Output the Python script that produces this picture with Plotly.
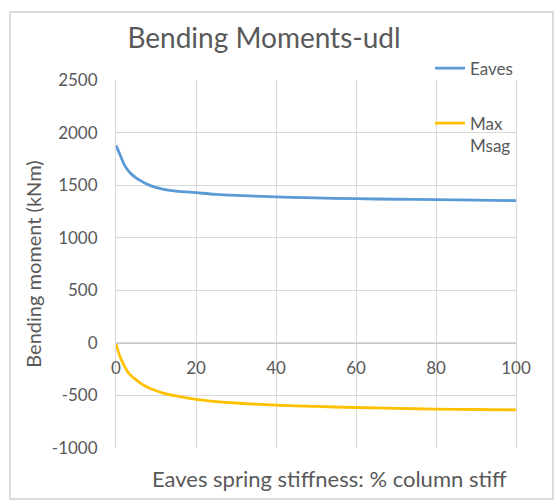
import plotly.graph_objects as go

# % column stiffness used for the eaves spring
stiffness = [0, 1, 2, 3, 4, 5, 6, 8, 10, 12, 15, 20, 25, 30, 40, 50, 60, 70, 80, 90, 100]
# bending moments (kNm)
eaves = [1880, 1790, 1700, 1640, 1600, 1570, 1545, 1505, 1478, 1460, 1443, 1428,
         1413, 1403, 1388, 1378, 1371, 1366, 1362, 1357, 1353]
max_msag = [-10, -130, -215, -280, -320, -350, -380, -425, -455, -480, -505, -537,
            -558, -572, -593, -605, -615, -623, -630, -634, -637]

y_ticks = [-1000, -500, 0, 500, 1000, 1500, 2000, 2500]
y_labels = ['-1000', '-500', '0', '500', '1000', '1500', '2000', '2500']

FONT = "Lato"
TXT = "#595959"
GRID = "#d9d9d9"

fig = go.Figure()
fig.add_trace(go.Scatter(x=stiffness, y=eaves, mode='lines', name='Eaves',
                         line=dict(color='#5b9bd5', width=2.8, shape='spline'),
                         legendgroup='a'))
fig.add_trace(go.Scatter(x=stiffness, y=max_msag, mode='lines', name='Max<br>Msag',
                         line=dict(color='#ffc000', width=2.8, shape='spline'),
                         legendgroup='b'))

fig.update_layout(
    width=558, height=502,
    margin=dict(l=116, r=42, t=80, b=54),
    paper_bgcolor='white', plot_bgcolor='white',
    font=dict(family=FONT, color=TXT, size=17),
    title=dict(text='Bending Moments-udl', x=264 / 558, xanchor='center',
               y=1 - 38 / 502, yanchor='middle',
               font=dict(family=FONT, size=28, color=TXT)),
    legend=dict(x=0.785, y=1.08, xanchor='left', yanchor='top',
                valign='top', tracegroupgap=30, font=dict(size=17, color=TXT),
                bgcolor='rgba(0,0,0,0)'),
    xaxis=dict(range=[0, 100], dtick=20, anchor='free', position=1000 / 3500,
               showgrid=True, gridcolor=GRID, gridwidth=1,
               showline=True, linecolor='#c8c8c8', linewidth=1,
               zeroline=False, ticks='', ticklabelstandoff=10,
               tickfont=dict(size=17, color=TXT)),
    yaxis=dict(range=[-1000, 2500], tickvals=y_ticks, ticktext=y_labels,
               showgrid=True, gridcolor=GRID, gridwidth=1,
               showline=True, mirror=True, linecolor=GRID, linewidth=1,
               zeroline=False, ticks='', ticklabelstandoff=14,
               tickfont=dict(size=17, color=TXT),
               title=dict(text='Bending moment (kNm)', standoff=4,
                          font=dict(size=20, color=TXT))),
    showlegend=True,
)

# x-axis title sits at the bottom of the chart, away from the axis at y=0
fig.add_annotation(text='Eaves spring stiffness: % column stiff',
                   xref='paper', yref='paper', x=(329 - 116) / 400, y=(448 - 478) / 368,
                   xanchor='center', yanchor='middle', showarrow=False,
                   font=dict(size=22, color=TXT, family=FONT))

# outer chart frame
fig.add_shape(type='rect', xref='paper', yref='paper',
              x0=(10 - 116) / 400, x1=(553 - 116) / 400,
              y0=(448 - 499) / 368, y1=(448 - 12) / 368,
              line=dict(color='#d0d0d0', width=1.5), layer='below')

fig.write_html("out.html", config={'displayModeBar': False},
               post_script="document.body.style.margin='0';")
